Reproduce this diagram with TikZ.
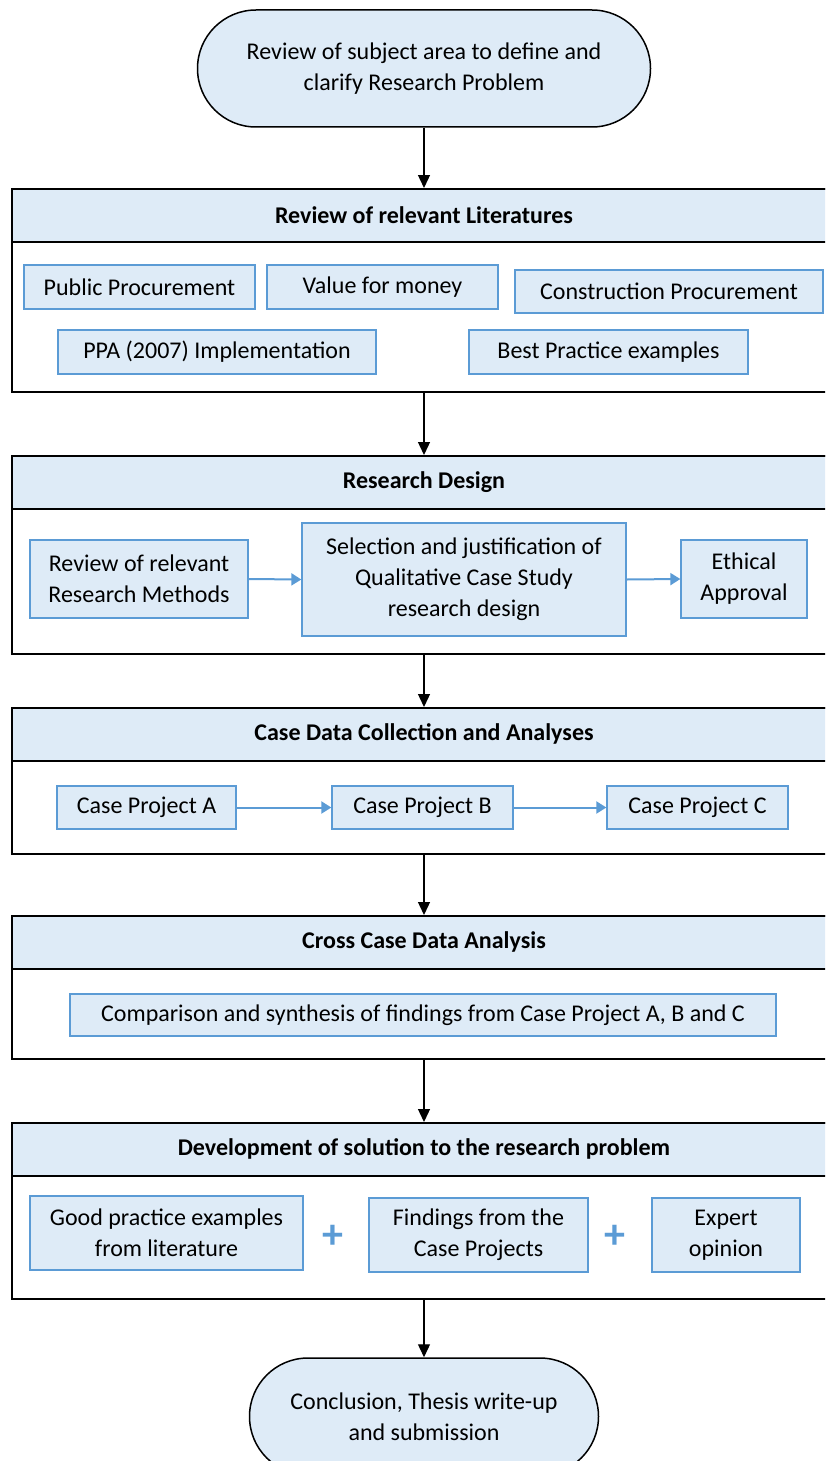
\documentclass[tikz,border=0pt]{standalone}
\usepackage{fontspec}
\setmainfont{Carlito}
\usetikzlibrary{arrows.meta,shapes.misc}
\definecolor{lb}{HTML}{DEEBF7}
\definecolor{bb}{HTML}{5B9BD5}
\begin{document}
\begin{tikzpicture}[x=1pt,y=-1pt,
  outer/.style={draw=black, line width=1.5pt, minimum width=824pt, inner sep=0pt, anchor=north},
  header/.style={draw=black, fill=lb, line width=1.5pt, minimum width=824pt, minimum height=53pt, inner sep=0pt, anchor=north, font=\bfseries\fontsize{24}{28}\selectfont},
  ib/.style={draw=bb, fill=lb, line width=1.3pt, inner sep=0pt, align=center, font=\fontsize{24}{31}\selectfont},
  oval/.style={rounded rectangle, draw=black, fill=lb, line width=1.5pt, inner sep=0pt, align=center, font=\fontsize{24}{31}\selectfont},
  plus/.style={text=bb, font=\bfseries\fontsize{42}{42}\selectfont, inner sep=0pt},
  flow/.style={draw=black, line width=1.3pt, -{Triangle[length=13pt,width=12pt]}},
  bflow/.style={draw=bb, line width=2pt, -{Triangle[length=10pt,width=12pt]}}
]
\useasboundingbox (0,0) rectangle (825,1461);
\clip (0,0) rectangle (825,1461);

% top oval
\node[oval, minimum width=453pt, minimum height=117pt] (top) at (424,68.5) {Review of subject area to define and\\clarify Research Problem};

% box 1
\node[outer, minimum height=203pt] (b1) at (424,188) {};
\node[header] (h1) at (424,188) {Review of relevant Literatures};
\node[ib, minimum width=231pt, minimum height=44pt] (pp) at (139.5,287) {Public Procurement};
\node[ib, minimum width=231pt, minimum height=44pt] (vm) at (382.5,287) {Value for money};
\node[ib, minimum width=308pt, minimum height=43pt] (cp) at (669,291.5) {Construction Procurement};
\node[ib, minimum width=318pt, minimum height=44pt] (ppa) at (217,352) {PPA (2007) Implementation};
\node[ib, minimum width=279pt, minimum height=44pt] (bp) at (608.5,352) {Best Practice examples};

% box 2
\node[outer, minimum height=198pt] (b2) at (424,455) {};
\node[header] (h2) at (424,455) {Research Design};
\node[ib, minimum width=218pt, minimum height=78pt] (rm) at (139,579) {Review of relevant\\Research Methods};
\node[ib, minimum width=324pt, minimum height=113pt] (sel) at (464,579.5) {Selection and justification of\\Qualitative Case Study\\research design};
\node[ib, minimum width=126pt, minimum height=78pt] (eth) at (744,579) {Ethical\\Approval};

% box 3
\node[outer, minimum height=146pt] (b3) at (424,707) {};
\node[header] (h3) at (424,707) {Case Data Collection and Analyses};
\node[ib, minimum width=179pt, minimum height=43pt] (ca) at (146.5,807.5) {Case Project A};
\node[ib, minimum width=181pt, minimum height=43pt] (cb) at (422.5,807.5) {Case Project B};
\node[ib, minimum width=181pt, minimum height=43pt] (cc) at (697.5,807.5) {Case Project C};

% box 4
\node[outer, minimum height=143pt] (b4) at (424,915) {};
\node[header] (h4) at (424,915) {Cross Case Data Analysis};
\node[ib, minimum width=706pt, minimum height=42pt] (cmp) at (423,1015) {Comparison and synthesis of findings from Case Project A, B and C};

% box 5
\node[outer, minimum height=176pt] (b5) at (424,1122) {};
\node[header] (h5) at (424,1122) {Development of solution to the research problem};
\node[ib, minimum width=273pt, minimum height=74pt] (gp) at (166.5,1233) {Good practice examples\\from literature};
\node[plus] (p1) at (333,1237) {+};
\node[ib, minimum width=219pt, minimum height=74pt] (fc) at (478.5,1235) {Findings from the\\Case Projects};
\node[plus] (p2) at (615,1237) {+};
\node[ib, minimum width=148pt, minimum height=74pt] (ex) at (726,1235) {Expert\\opinion};

% bottom oval
\node[oval, minimum width=349pt, minimum height=117pt] (bot) at (424,1416.5) {Conclusion, Thesis write-up\\and submission};

% connectors
\draw[flow] (top.south) -- (h1.north);
\draw[flow] (b1.south) -- (h2.north);
\draw[flow] (b2.south) -- (h3.north);
\draw[flow] (b3.south) -- (h4.north);
\draw[flow] (b4.south) -- (h5.north);
\draw[flow] (b5.south) -- (bot.north);

\draw[bflow] (rm.east) -- (sel.west);
\draw[bflow] (sel.east) -- (eth.west);
\draw[bflow] (ca.east) -- (cb.west);
\draw[bflow] (cb.east) -- (cc.west);
\end{tikzpicture}
\end{document}
